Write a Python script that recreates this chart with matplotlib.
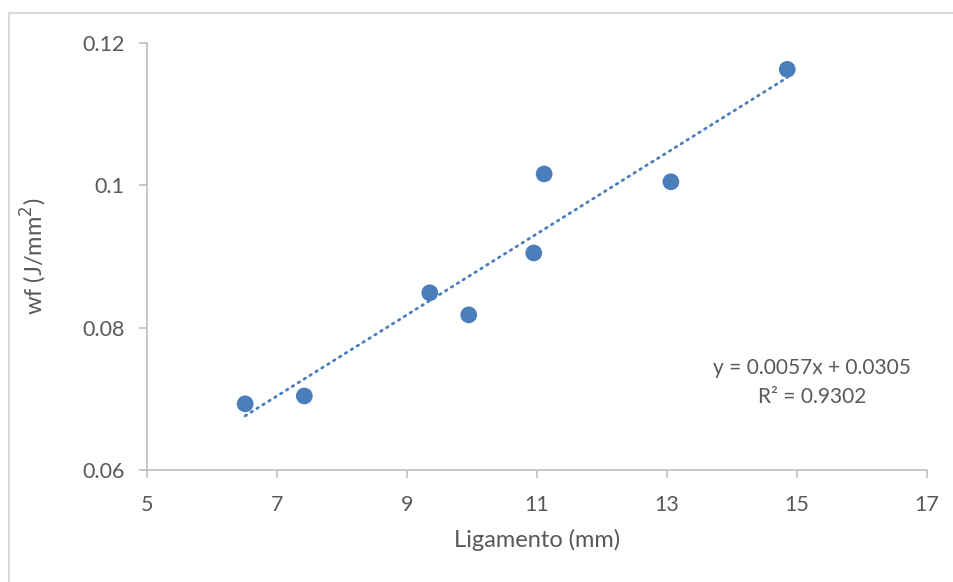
import numpy as np
import matplotlib.pyplot as plt
from matplotlib.lines import Line2D

ligamento = [6.51, 7.42, 9.35, 9.95, 10.95, 11.11, 13.06, 14.85]
wf = [0.0693, 0.0704, 0.0849, 0.0818, 0.0905, 0.1016, 0.1005, 0.1163]
slope = 0.0057
intercept = 0.0305
r2 = 0.9302

plt.rcParams['font.family'] = ['Lato', 'DejaVu Sans']
grey = '#595959'
blue = '#4A7EBB'

fig = plt.figure(figsize=(9.54, 5.82), dpi=100)
ax = fig.add_axes([147/954, 1-470/582, (927-147)/954, (470-43)/582])

# trendline
xt = np.array([min(ligamento), max(ligamento)])
ax.plot(xt, slope*xt + intercept, color=blue, lw=2.0, linestyle=(0, (0.6, 1.9)),
        dash_capstyle='round', zorder=2)
ax.scatter(ligamento, wf, s=145, color=blue, edgecolors='none', zorder=3)

ax.set_xlim(5, 17)
ax.set_ylim(0.06, 0.12)
ax.set_xticks(np.arange(5, 18, 2))
ax.set_yticks([0.06, 0.08, 0.1, 0.12])
ax.set_yticklabels(['0.06', '0.08', '0.1', '0.12'])

for s in ['top', 'right']:
    ax.spines[s].set_visible(False)
for s in ['left', 'bottom']:
    ax.spines[s].set_color('#BFBFBF')
    ax.spines[s].set_linewidth(1.2)
ax.tick_params(colors='#BFBFBF', labelcolor=grey, labelsize=15.5, length=6, width=1.2)
ax.tick_params(axis='x', pad=12)
ax.tick_params(axis='y', pad=10)

ax.set_xlabel('Ligamento (mm)', fontsize=17, color=grey, labelpad=10)
ax.set_ylabel('wf (J/mm$^2$)', fontsize=17, color=grey, labelpad=24)

ax.text(812/954, 1-368/582, 'y = 0.0057x + 0.0305', transform=fig.transFigure,
        ha='center', va='center', fontsize=15, color=grey)
ax.text(812/954, 1-397/582, 'R² = 0.9302', transform=fig.transFigure,
        ha='center', va='center', fontsize=15, color=grey)

# outer chart border (top and left edges visible)
fig.add_artist(Line2D([9/954, 9/954], [0, 1-13/582], transform=fig.transFigure,
                      color='#D9D9D9', lw=1.5))
fig.add_artist(Line2D([9/954, 1], [1-13/582, 1-13/582], transform=fig.transFigure,
                      color='#D9D9D9', lw=1.5))

fig.savefig('out.png', dpi=100)
